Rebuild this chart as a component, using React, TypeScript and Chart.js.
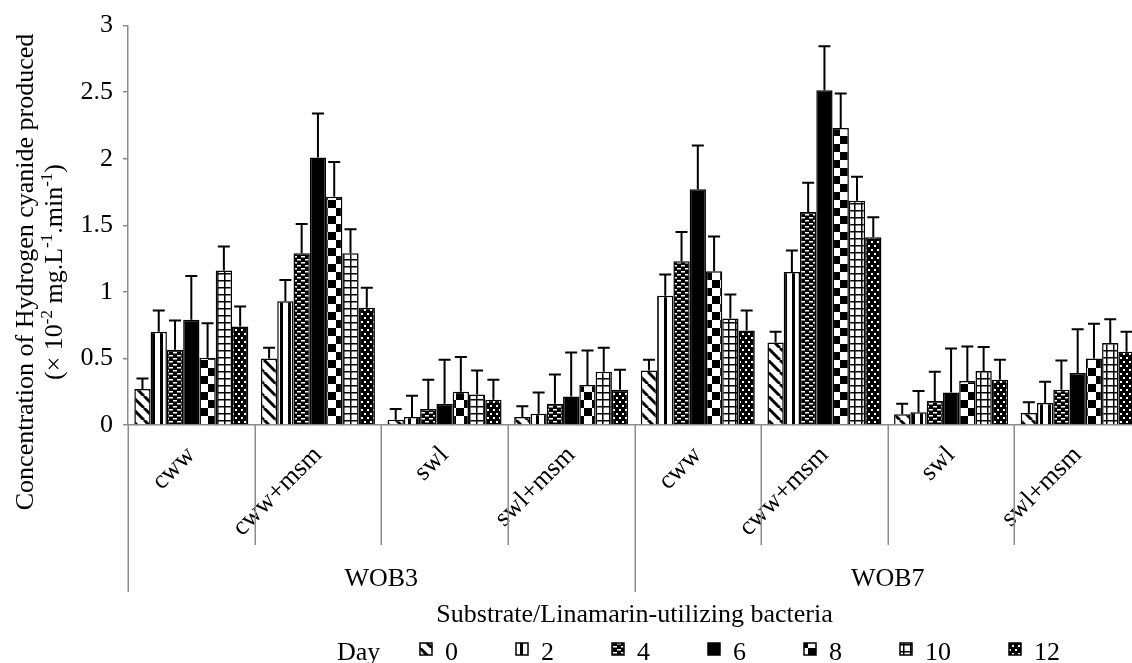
import React, { useEffect, useRef } from 'react';
import { Chart, registerables } from 'chart.js';

Chart.register(...registerables);

const FONT = "'Liberation Serif', 'Times New Roman', serif";
const AXIS_GRAY = '#8c8c8c';

// ---- data ----
const groupLabels = ['WOB3', 'WOB7'];
const substrateLabels = ['cww', 'cww+msm', 'swl', 'swl+msm'];
const dayLabels = ['0', '2', '4', '6', '8', '10', '12'];
const legendTitle = 'Day';

const day0 = [0.27, 0.5, 0.04, 0.06, 0.41, 0.62, 0.08, 0.09];
const day2 = [0.7, 0.93, 0.06, 0.085, 0.97, 1.15, 0.095, 0.165];
const day4 = [0.565, 1.29, 0.12, 0.16, 1.23, 1.6, 0.18, 0.265];
const day6 = [0.79, 2.01, 0.16, 0.215, 1.77, 2.515, 0.245, 0.39];
const day8 = [0.505, 1.715, 0.25, 0.3, 1.155, 2.23, 0.33, 0.5];
const day10 = [1.16, 1.29, 0.23, 0.4, 0.8, 1.685, 0.405, 0.615];
const day12 = [0.74, 0.88, 0.19, 0.265, 0.71, 1.41, 0.34, 0.55];
const dayErrors = [0.08, 0.16, 0.22, 0.33, 0.26, 0.18, 0.15];

const yMin = 0;
const yMax = 3;
const yStep = 0.5;

const xTitle = 'Substrate/Linamarin-utilizing bacteria';
const yTitleLine1 = 'Concentration of Hydrogen cyanide produced';
const yTitleLine2: [string, boolean][] = [
  ['(\u00d7 10', false],
  ['-2', true],
  [' mg.L', false],
  ['-1', true],
  ['.min', false],
  ['-1', true],
  [')', false],
];

const seriesValues = [day0, day2, day4, day6, day8, day10, day12];
const categoryLabels = groupLabels.flatMap(() => substrateLabels);

// ---- patterns ----
function tile(w: number, h: number, draw: (g: CanvasRenderingContext2D) => void) {
  const c = document.createElement('canvas');
  c.width = w;
  c.height = h;
  const g = c.getContext('2d')!;
  draw(g);
  return g.createPattern(c, 'repeat')!;
}

function makePatterns(): (CanvasPattern | string)[] {
  const diag = tile(12, 12, (g) => {
    g.fillStyle = '#fff';
    g.fillRect(0, 0, 12, 12);
    g.strokeStyle = '#000';
    g.lineWidth = 3;
    for (const o of [-12, 0, 12]) {
      g.beginPath();
      g.moveTo(o, 0);
      g.lineTo(o + 12, 12);
      g.stroke();
    }
  });
  const vert = tile(8, 4, (g) => {
    g.fillStyle = '#fff';
    g.fillRect(0, 0, 8, 4);
    g.fillStyle = '#000';
    g.fillRect(0, 0, 3, 4);
  });
  const confetti = tile(8, 6, (g) => {
    g.fillStyle = '#000';
    g.fillRect(0, 0, 8, 6);
    g.fillStyle = '#fff';
    g.fillRect(1, 1, 4, 1.5);
    g.fillRect(5, 4, 4, 1.5);
    g.fillRect(-3, 4, 4, 1.5);
  });
  const checker = tile(16, 16, (g) => {
    g.fillStyle = '#fff';
    g.fillRect(0, 0, 16, 16);
    g.fillStyle = '#000';
    g.fillRect(0, 0, 8, 8);
    g.fillRect(8, 8, 8, 8);
  });
  const grid = tile(7, 7, (g) => {
    g.fillStyle = '#fff';
    g.fillRect(0, 0, 7, 7);
    g.fillStyle = '#000';
    g.fillRect(0, 0, 7, 1.5);
    g.fillRect(0, 0, 1.5, 7);
  });
  const dots = tile(6, 8, (g) => {
    g.fillStyle = '#000';
    g.fillRect(0, 0, 6, 8);
    g.fillStyle = '#fff';
    g.fillRect(1, 1, 2, 2);
    g.fillRect(4, 5, 2, 2);
  });
  return [diag, vert, confetti, '#000', checker, grid, dots];
}

// ---- plugins ----
const errorBarPlugin = {
  id: 'errorBars',
  afterDatasetsDraw(chart: any) {
    const { ctx } = chart;
    const yScale = chart.scales.y;
    ctx.save();
    ctx.strokeStyle = '#000';
    ctx.lineWidth = 2;
    chart.data.datasets.forEach((ds: any, i: number) => {
      const meta = chart.getDatasetMeta(i);
      meta.data.forEach((el: any, j: number) => {
        const v = ds.data[j];
        const top = yScale.getPixelForValue(v + ds.errorPlus);
        const x = el.x;
        ctx.beginPath();
        ctx.moveTo(x, el.y);
        ctx.lineTo(x, top);
        ctx.moveTo(x - 6, top);
        ctx.lineTo(x + 6, top);
        ctx.stroke();
      });
    });
    ctx.restore();
  },
};

const groupAxisPlugin = {
  id: 'groupAxis',
  afterDraw(chart: any) {
    const { ctx, chartArea } = chart;
    const x = chart.scales.x;
    const n = chart.data.labels.length;
    const per = substrateLabels.length;
    ctx.save();
    ctx.strokeStyle = AXIS_GRAY;
    ctx.lineWidth = 1.5;
    for (let k = 0; k <= n; k++) {
      const px = Math.round(x.getPixelForValue(k - 0.5)) + 0.25;
      const outer = k % per === 0;
      ctx.beginPath();
      ctx.moveTo(px, chartArea.bottom);
      ctx.lineTo(px, chartArea.bottom + (outer ? 167 : 120));
      ctx.stroke();
    }
    ctx.fillStyle = '#000';
    ctx.font = `26px ${FONT}`;
    ctx.textAlign = 'center';
    ctx.textBaseline = 'alphabetic';
    groupLabels.forEach((g, gi) => {
      const a = x.getPixelForValue(gi * per - 0.5);
      const b = x.getPixelForValue((gi + 1) * per - 0.5);
      ctx.fillText(g, (a + b) / 2, chartArea.bottom + 161);
    });
    // x title
    ctx.fillText(xTitle, (chartArea.left + chartArea.right) / 2, chartArea.bottom + 197);
    ctx.restore();
  },
};

const yTitlePlugin = {
  id: 'yTitle',
  afterDraw(chart: any) {
    const { ctx } = chart;
    const cy = 272;
    const mainFont = `26px ${FONT}`;
    const supFont = `17px ${FONT}`;
    ctx.save();
    ctx.fillStyle = '#000';
    ctx.textBaseline = 'alphabetic';
    // line 1
    ctx.save();
    ctx.translate(33, cy);
    ctx.rotate(-Math.PI / 2);
    ctx.font = mainFont;
    ctx.textAlign = 'center';
    ctx.fillText(yTitleLine1, 0, 0);
    ctx.restore();
    // line 2 with superscripts
    ctx.save();
    ctx.translate(62, cy);
    ctx.rotate(-Math.PI / 2);
    ctx.textAlign = 'left';
    let total = 0;
    for (const [t, sup] of yTitleLine2) {
      ctx.font = sup ? supFont : mainFont;
      total += ctx.measureText(t).width;
    }
    let xx = -total / 2;
    for (const [t, sup] of yTitleLine2) {
      ctx.font = sup ? supFont : mainFont;
      ctx.fillText(t, xx, sup ? -10 : 0);
      xx += ctx.measureText(t).width;
    }
    ctx.restore();
    ctx.restore();
  },
};

const legendPlugin = {
  id: 'dayLegend',
  afterDraw(chart: any) {
    const { ctx } = chart;
    const base = 660;
    ctx.save();
    ctx.font = `26px ${FONT}`;
    ctx.textBaseline = 'alphabetic';
    ctx.textAlign = 'left';
    ctx.fillStyle = '#000';
    ctx.fillText(legendTitle, 337, base);
    let x = 420;
    chart.data.datasets.forEach((ds: any) => {
      ctx.fillStyle = ds.backgroundColor;
      ctx.fillRect(x, base - 17, 12, 12);
      ctx.strokeStyle = '#000';
      ctx.lineWidth = 1.5;
      ctx.strokeRect(x, base - 17, 12, 12);
      ctx.fillStyle = '#000';
      ctx.fillText(ds.label, x + 25, base);
      x += 25 + ctx.measureText(ds.label).width + 58;
    });
    ctx.restore();
  },
};

export default function App() {
  const ref = useRef<HTMLCanvasElement>(null);

  useEffect(() => {
    if (!ref.current) return;
    const patterns = makePatterns();
    const chart = new Chart(ref.current, {
      type: 'bar',
      data: {
        labels: categoryLabels,
        datasets: seriesValues.map((vals, i) => ({
          label: dayLabels[i],
          data: vals,
          errorPlus: dayErrors[i],
          backgroundColor: patterns[i] as any,
          borderColor: '#000',
          borderWidth: 1.5,
          categoryPercentage: 0.9,
          barPercentage: 1.0,
        })) as any,
      },
      options: {
        responsive: false,
        animation: false,
        events: [],
        layout: { padding: { top: 24, right: 4, left: 0, bottom: 0 } },
        plugins: {
          legend: { display: false },
          tooltip: { enabled: false },
          title: { display: false },
        },
        scales: {
          x: {
            grid: { display: false, drawTicks: false },
            border: { display: true, color: AXIS_GRAY, width: 1.5 },
            ticks: {
              autoSkip: false,
              minRotation: 45,
              maxRotation: 45,
              padding: 15,
              color: '#000',
              font: { family: FONT, size: 26 },
            },
            afterFit: (s: any) => {
              s.height = 238;
            },
          },
          y: {
            min: yMin,
            max: yMax,
            ticks: {
              stepSize: yStep,
              padding: 10,
              color: '#000',
              font: { family: FONT, size: 26 },
              callback: (v: any) => String(v),
            },
            grid: {
              drawOnChartArea: false,
              drawTicks: true,
              tickLength: 5,
              color: AXIS_GRAY,
              lineWidth: 1.5,
            },
            border: { display: true, color: AXIS_GRAY, width: 1.5 },
            afterFit: (s: any) => {
              s.width = 128;
            },
          },
        },
      },
      plugins: [errorBarPlugin, groupAxisPlugin, yTitlePlugin, legendPlugin],
    });
    return () => chart.destroy();
  }, []);

  return (
    <div
      style={{
        position: 'fixed',
        left: 0,
        top: 0,
        width: 1132,
        height: 663,
        overflow: 'hidden',
        background: '#fff',
      }}
    >
      <canvas ref={ref} width={1145} height={663} style={{ display: 'block' }} />
    </div>
  );
}
